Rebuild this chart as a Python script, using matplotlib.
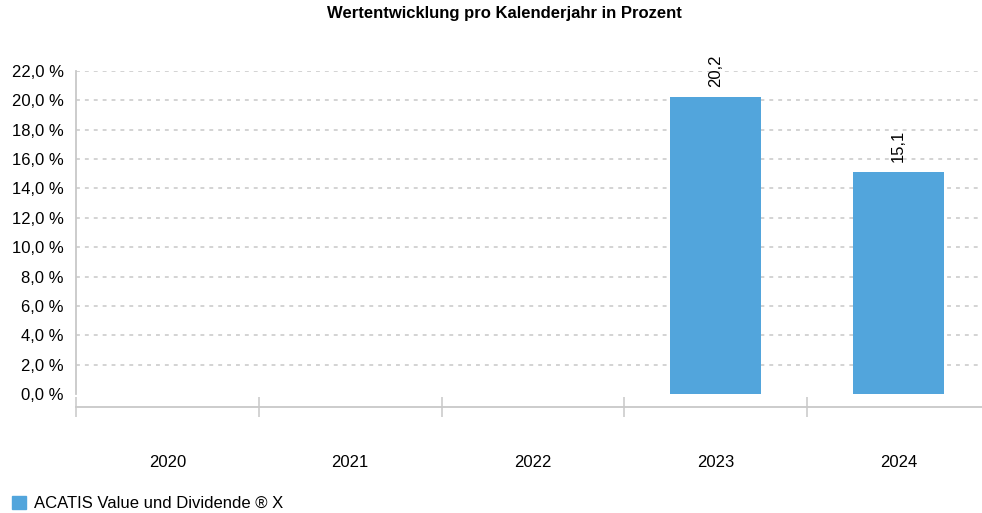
import matplotlib.pyplot as plt
import matplotlib.ticker as mticker
from matplotlib.patches import Patch
import numpy as np

plt.rcParams['font.family'] = ['Liberation Sans', 'DejaVu Sans']
plt.rcParams['lines.scale_dashes'] = False

years = ["2020", "2021", "2022", "2023", "2024"]
values = [np.nan, np.nan, np.nan, 20.2, 15.1]
fund_name = "ACATIS Value und Dividende \u00ae X"
bar_color = "#52a5dc"
grid_color = "#c8c8c8"

fig = plt.figure(figsize=(9.82, 5.13), dpi=100)
ax = fig.add_axes([76/982, 1 - 394/513, (982 - 76)/982, (394 - 71)/513])

x = np.arange(len(years))
ax.bar(x, values, width=0.5, color=bar_color, zorder=3)

# value labels, rotated
for xi, v in zip(x, values):
    if not np.isnan(v):
        ax.annotate(f"{v:.1f}".replace(".", ","), (xi, v), xytext=(0, 7.5),
                    textcoords="offset points", rotation=90,
                    ha="center", va="bottom", fontsize=12)

ax.set_yticks(np.arange(0, 23, 2))
ax.yaxis.set_major_formatter(mticker.FuncFormatter(lambda v, p: f"{v:.1f} %".replace(".", ",")))
ax.tick_params(axis="y", length=0, pad=9, labelsize=12)

ax.yaxis.grid(True, color=grid_color, linewidth=1.1, linestyle=(0, (2.8, 3.6)))
ax.get_ygridlines()[0].set_visible(False)
ax.set_axisbelow(True)

# x axis below the zero line
ax.set_xticks(x)
ax.set_xticklabels(years)
ax.set_xticks(np.arange(-0.5, 5, 1), minor=True)
ax.tick_params(axis="x", which="major", length=0, pad=34.5, labelsize=12)
ax.tick_params(axis="x", which="minor", length=15, width=1.1, direction="inout", color=grid_color)
ax.spines["bottom"].set_position(("outward", 9.5))
for side in ["top", "right"]:
    ax.spines[side].set_visible(False)
for side in ["left", "bottom"]:
    ax.spines[side].set_color(grid_color)
    ax.spines[side].set_linewidth(1.3)

ax.set_ylim(0, 22)
ax.set_xlim(-0.5, 4.5 - 8/183)

fig.suptitle("Wertentwicklung pro Kalenderjahr in Prozent", x=0.514, y=0.988,
             fontsize=12, fontweight="bold")

fig.legend(handles=[Patch(color=bar_color, label=fund_name)], loc="lower left",
           bbox_to_anchor=(-0.003, -0.026), frameon=False, fontsize=12,
           handlelength=0.85, handleheight=0.85, handletextpad=0.45)

fig.savefig("out.png", dpi=100)
